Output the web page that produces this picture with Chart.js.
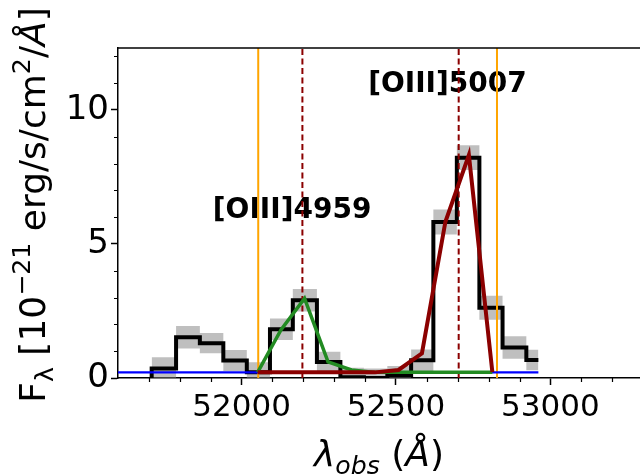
<!DOCTYPE html>
<html>
<head>
<meta charset="utf-8">
<script src="https://cdn.jsdelivr.net/npm/chart.js@4"></script>
<style>
  html, body { margin: 0; padding: 0; background: #fff; overflow: hidden; }
  #wrap { width: 640px; height: 476px; }
</style>
</head>
<body>
<div id="wrap"><canvas id="specChart" width="640" height="476"></canvas></div>
<script>
// observed spectrum: each flux value holds from the previous wavelength up to this one
const stepWave = [51709, 51788, 51865, 51941, 52017, 52092, 52166, 52244, 52320, 52396, 52472, 52549, 52621, 52697, 52770, 52845, 52922, 52961];
const stepFlux = [0.00, 0.35, 1.52, 1.30, 0.65, 0.21, 1.82, 2.90, 0.60, 0.03, 0.00, 0.10, 0.66, 5.82, 8.22, 2.62, 1.14, 0.67];
const stepErr  = [0.00, 0.42, 0.42, 0.38, 0.39, 0.38, 0.40, 0.42, 0.38, 0.35, 0.35, 0.35, 0.40, 0.47, 0.46, 0.45, 0.42, 0.38];

// gaussian fits, sampled at the bin centres
const modelWave = [52052, 52128, 52204, 52280, 52356, 52432, 52508, 52584, 52660, 52736, 52812];
const model4959 = [0.21, 1.80, 2.97, 0.60, 0.30, 0.21, 0.21, 0.21, 0.21, 0.21, 0.21];
const model5007 = [0.21, 0.21, 0.21, 0.21, 0.21, 0.21, 0.30, 0.92, 5.83, 8.32, 0.22];

// continuum
const contWave = [51600, 52961];
const contLevel = [0.21, 0.21];

// fit window and line centres
const windowWave = [52054, 52827];
const lineWave = [52197, 52703];
const lineLabels = ['[OIII]4959', '[OIII]5007'];
const labelWave = [51907, 52410];
const labelFlux = [5.96, 10.68];

const xTicks = [52000, 52500, 53000];
const yTicks = [0, 5, 10];
const X_MIN = 51600, X_MAX = 53290, Y_MIN = 0, Y_MAX = 12.31;

const FONT = '"DejaVu Sans", sans-serif';

const toPts = (xs, ys) => xs.map((x, i) => ({ x: x, y: ys[i] }));
const vline = w => [{ x: w, y: Y_MIN }, { x: w, y: Y_MAX }];

function drawRich(ctx, parts, size, x, y) {
    const fontOf = p => (p.it ? 'italic ' : '') + ((p.sub || p.sup) ? size * 0.7 : size) + 'px ' + FONT;
    let total = 0;
    parts.forEach(p => { ctx.font = fontOf(p); total += ctx.measureText(p.t).width; });
    let cx = x - total / 2;
    parts.forEach(p => {
        ctx.font = fontOf(p);
        const dy = p.sub ? size * 0.22 : (p.sup ? -size * 0.42 : 0);
        ctx.fillText(p.t, cx, y + dy);
        cx += ctx.measureText(p.t).width;
    });
}

const decor = {
    id: 'decor',
    beforeDatasetsDraw(chart) {
        const { ctx, scales: { x, y } } = chart;
        ctx.save();
        ctx.fillStyle = '#000';
        ctx.font = 'bold 28px ' + FONT;
        ctx.textAlign = 'left';
        ctx.textBaseline = 'alphabetic';
        lineLabels.forEach((t, i) => {
            ctx.fillText(t, x.getPixelForValue(labelWave[i]), y.getPixelForValue(labelFlux[i]));
        });
        ctx.restore();
    },
    afterDraw(chart) {
        const { ctx, chartArea: a, scales: { x, y } } = chart;
        ctx.save();
        ctx.strokeStyle = '#000';
        ctx.lineWidth = 1.5;
        // top spine
        ctx.beginPath();
        ctx.moveTo(a.left, a.top);
        ctx.lineTo(a.right, a.top);
        ctx.stroke();
        // minor ticks
        ctx.lineWidth = 1.2;
        ctx.beginPath();
        for (let v = 51700; v < X_MAX; v += 100) {
            if (v % 500 === 0) continue;
            const px = Math.round(x.getPixelForValue(v)) + 0.5;
            ctx.moveTo(px, a.bottom);
            ctx.lineTo(px, a.bottom + 4);
        }
        for (let v = 1; v < Y_MAX; v += 1) {
            if (v % 5 === 0) continue;
            const py = Math.round(y.getPixelForValue(v)) + 0.5;
            ctx.moveTo(a.left, py);
            ctx.lineTo(a.left - 4, py);
        }
        ctx.stroke();

        // axis titles
        ctx.fillStyle = '#000';
        ctx.textAlign = 'left';
        ctx.textBaseline = 'alphabetic';
        drawRich(ctx, [
            { t: 'λ', it: true },
            { t: 'obs', it: true, sub: true },
            { t: ' (' },
            { t: 'Å', it: true },
            { t: ')' }
        ], 36, (a.left + a.right) / 2, 466);

        ctx.translate(45, 205);
        ctx.rotate(-Math.PI / 2);
        drawRich(ctx, [
            { t: 'F' },
            { t: 'λ', sub: true },
            { t: ' [10' },
            { t: '−21', sup: true },
            { t: ' erg/s/cm' },
            { t: '2', sup: true },
            { t: '/' },
            { t: 'Å', it: true },
            { t: ']' }
        ], 36, 0, 0);
        ctx.restore();
    }
};

new Chart(document.getElementById('specChart'), {
    type: 'line',
    data: {
        datasets: [
            {
                data: toPts(stepWave, stepFlux.map((f, i) => f + stepErr[i])),
                stepped: 'after',
                borderWidth: 0,
                borderColor: 'rgba(0,0,0,0)',
                backgroundColor: 'rgba(128,128,128,0.5)',
                fill: '+1',
                order: 10
            },
            {
                data: toPts(stepWave, stepFlux.map((f, i) => f - stepErr[i])),
                stepped: 'after',
                borderWidth: 0,
                borderColor: 'rgba(0,0,0,0)',
                fill: false,
                order: 10
            },
            {
                data: toPts(stepWave, stepFlux),
                stepped: 'after',
                borderColor: '#000',
                borderWidth: 4,
                borderJoinStyle: 'miter',
                order: 9
            },
            ...windowWave.map(w => ({
                data: vline(w),
                borderColor: '#ffa500',
                borderWidth: 2,
                order: 8
            })),
            ...lineWave.map(w => ({
                data: vline(w),
                borderColor: '#8b0000',
                borderWidth: 2,
                borderDash: [6, 3.5],
                order: 7
            })),
            {
                data: toPts(contWave, contLevel),
                borderColor: '#0000ff',
                borderWidth: 2.2,
                order: 6
            },
            {
                data: toPts(modelWave, model4959),
                borderColor: '#228b22',
                borderWidth: 3.5,
                order: 5
            },
            {
                data: toPts(modelWave, model5007),
                borderColor: '#8b0000',
                borderWidth: 4,
                order: 4
            }
        ]
    },
    options: {
        responsive: false,
        animation: false,
        devicePixelRatio: 1,
        elements: { point: { radius: 0 }, line: { tension: 0 } },
        layout: { padding: { top: 48, right: 0, left: 0, bottom: 0 } },
        plugins: { legend: { display: false }, tooltip: { enabled: false } },
        scales: {
            x: {
                type: 'linear',
                min: X_MIN,
                max: X_MAX,
                afterBuildTicks: s => { s.ticks = xTicks.map(v => ({ value: v })); },
                afterFit: s => { s.height = 98; },
                grid: { drawOnChartArea: false, tickLength: 7, tickWidth: 1.5, tickColor: '#000' },
                border: { display: true, color: '#000', width: 1.5 },
                ticks: { color: '#000', font: { family: FONT, size: 31 }, padding: 4, maxRotation: 0, callback: v => String(v) }
            },
            y: {
                min: Y_MIN,
                max: Y_MAX,
                afterBuildTicks: s => { s.ticks = yTicks.map(v => ({ value: v })); },
                afterFit: s => { s.width = 118; },
                grid: { drawOnChartArea: false, tickLength: 7, tickWidth: 1.5, tickColor: '#000' },
                border: { display: true, color: '#000', width: 1.5 },
                ticks: { color: '#000', font: { family: FONT, size: 34 }, padding: 2, callback: v => String(v) }
            }
        }
    },
    plugins: [decor]
});
</script>
</body>
</html>
